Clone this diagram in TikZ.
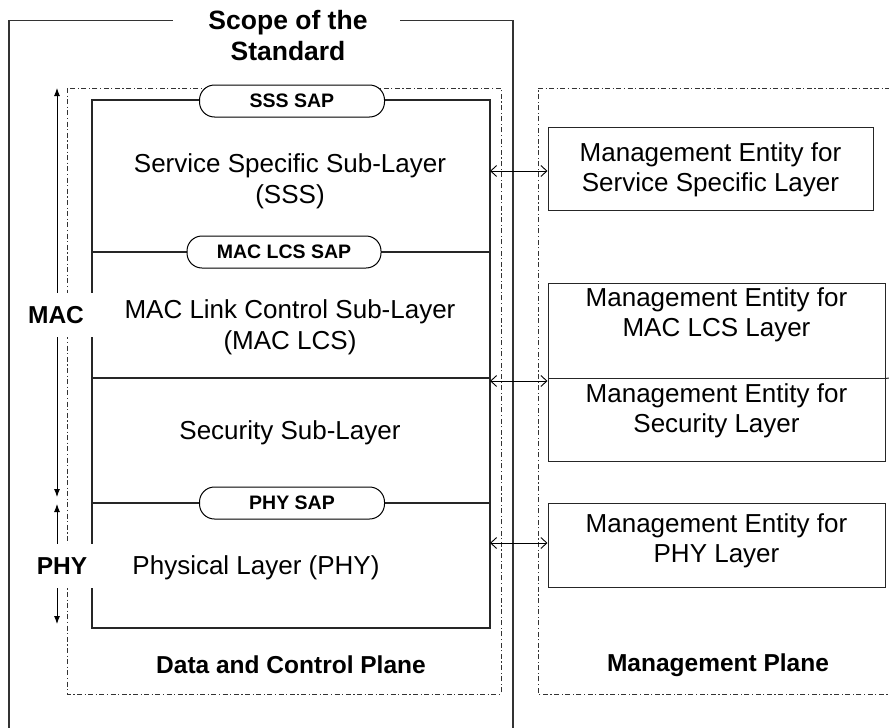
\documentclass[tikz,border=0pt]{standalone}
\usepackage{fontspec}
\setmainfont{Liberation Sans}
\usetikzlibrary{arrows.meta}
\begin{document}
\begin{tikzpicture}[x=1pt,y=-1pt,
  frame/.style={line width=1.6pt,draw=black!80},
  inner/.style={line width=1.1pt,draw=black!85},
  dashdot/.style={line width=0.8pt,draw=black!80,dash pattern=on 5pt off 2.5pt on 1.2pt off 2.5pt},
  sap/.style={draw=black,line width=1pt,fill=white,rounded corners=15pt,minimum width=185pt,minimum height=32pt,inner sep=0pt,font=\fontsize{19.5}{22}\selectfont\bfseries},
  mgmt/.style={draw=black!85,line width=1pt,inner sep=0pt,minimum width=337pt},
  mtext/.style={align=center,font=\fontsize{26}{30}\selectfont},
  body/.style={align=center,font=\fontsize{26}{31}\selectfont},
  bold/.style={align=center,font=\fontsize{24.5}{28}\selectfont\bfseries},
  mask/.style={fill=white,draw=none,inner sep=0pt},
  dbl/.style={line width=0.9pt,{Straight Barb[length=6pt,width=11pt]}-{Straight Barb[length=6pt,width=11pt]}},
  span/.style={line width=0.9pt,-{Latex[length=8pt,width=6pt]}}
]
\useasboundingbox (0,0) rectangle (889,728);
% outer frame (open at bottom)
\coordinate (fbl) at (9,740);
\coordinate (ftl) at (9,20.5);
\coordinate (ftla) at (173,20.5);
\coordinate (ftrb) at (400,20.5);
\coordinate (ftr) at (513,20.5);
\coordinate (fbr) at (513,740);
\draw[frame] (fbl) -- (ftl) -- (ftla);
\draw[frame] (ftrb) -- (ftr) -- (fbr);
\node[align=center,font=\fontsize{26.5}{31}\selectfont\bfseries] (title) at (288,36) {Scope of the\\Standard};
% planes
\draw[dashdot] (67,88) rectangle (501,694);
\draw[dashdot] (538,88) -- (895,88);
\draw[dashdot] (895,694) -- (538,694) -- (538,88);
% inner box
\draw[inner] (92,100) rectangle (490,628);
\draw[inner] (92,252) -- (490,252);
\draw[inner] (92,378) -- (490,378);
\draw[inner] (92,503) -- (490,503);
\node[sap] (sss) at (292,101) {SSS SAP};
\node[sap,minimum width=194pt] (lcs) at (284,252) {MAC LCS SAP};
\node[sap] (phy) at (292,503) {PHY SAP};
% layer texts
\node[body] (t1) at (290,181) {Service Specific Sub-Layer\\(SSS)};
\node[body] (t2) at (290,327) {MAC Link Control Sub-Layer\\(MAC LCS)};
\node[body] (t3) at (290,433) {Security Sub-Layer};
\node[body] (t4) at (256,568) {Physical Layer (PHY)};
\node[bold] (p1) at (291,665) {Data and Control Plane};
\node[bold] (p2) at (718,665) {Management Plane};
% left span arrows
\coordinate (mtop) at (57,293);
\coordinate (mtip) at (57,88);
\coordinate (mbot) at (57,337);
\coordinate (mbtip) at (57,497);
\coordinate (ptop) at (57,545);
\coordinate (ptip) at (57,504);
\coordinate (pbot) at (57,588);
\coordinate (pbtip) at (57,624);
\draw[span] (mtop) -- (mtip);
\draw[span] (mbot) -- (mbtip);
\draw[span] (ptop) -- (ptip);
\draw[span] (pbot) -- (pbtip);
\node[mask,minimum width=78pt,minimum height=44pt] (macmask) at (58,315) {};
\node[mask,minimum width=78pt,minimum height=44pt] (phymask) at (58,566) {};
\node[bold] (mac) at (56,315) {MAC};
\node[bold] (phyl) at (62,566) {PHY};
% management boxes
\node[mgmt,minimum width=325pt,minimum height=83pt] (m1) at (710.5,168.5) {};
\node[mgmt,minimum height=95pt] (m2) at (716.5,330.5) {};
\node[mgmt,minimum height=83pt] (m3) at (716.5,419.5) {};
\node[mgmt,minimum height=84pt] (m4) at (716.5,545) {};
\node[mtext] (m1t) at (710.5,170) {Management Entity for\\Service Specific Layer};
\node[mtext] (m2t) at (716.5,315) {Management Entity for\\MAC LCS Layer};
\node[mtext] (m3t) at (716.5,411) {Management Entity for\\Security Layer};
\node[mtext] (m4t) at (716.5,541) {Management Entity for\\PHY Layer};
\coordinate (m2r) at (889,378);
\draw[line width=1pt,draw=black!85] (m2.south east) -- (m2r);
% double arrows
\coordinate (a1) at (490,171);
\coordinate (a2) at (490,381);
\coordinate (a3) at (490,543);
\draw[dbl] (a1) -- (a1 -| m1.west);
\draw[dbl] (a2) -- (a2 -| m3.west);
\draw[dbl] (a3) -- (a3 -| m4.west);
\end{tikzpicture}
\end{document}
